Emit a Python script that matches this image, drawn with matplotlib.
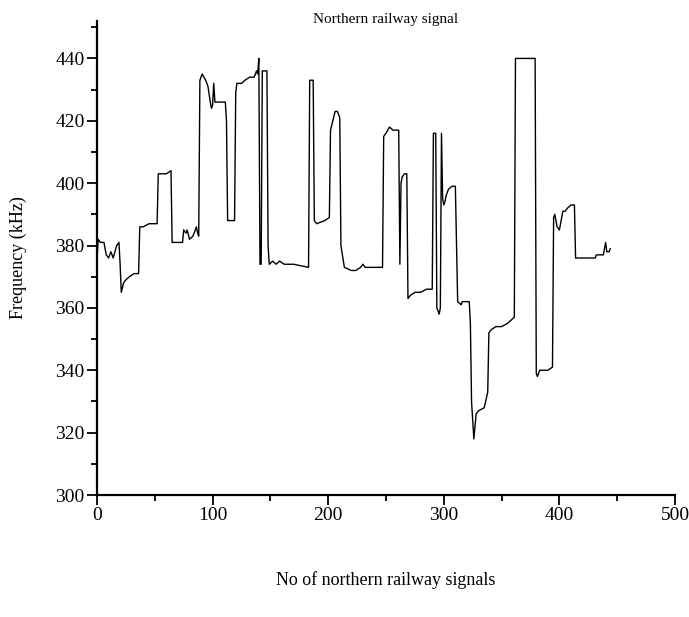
import matplotlib
matplotlib.use("Agg")
import matplotlib.pyplot as plt
from matplotlib.ticker import MultipleLocator

# signal index vs frequency (kHz)
signal_no = [0, 1, 3, 6, 8, 10, 12, 14, 17, 19, 20, 21, 23, 25, 28, 32, 36, 37, 40, 45, 52,
             53, 56, 60, 64, 65, 70, 74, 75, 77, 78, 80, 83, 86, 87, 88, 89, 91, 94, 96, 98,
             99, 100, 101, 102, 106, 111, 112, 113, 119, 120, 121, 125, 128, 132, 136, 138,
             139, 140, 141, 142, 143, 147, 148, 149, 152, 155, 158, 162, 170, 183,
             184, 187, 188, 190, 197, 201, 202, 204, 206, 208, 210, 211, 214, 220, 224, 228,
             230, 232, 247, 248, 250, 253, 256, 261, 262, 263, 264, 266, 268, 269,
             271, 275, 280, 285, 290, 291, 293, 294, 296, 297, 298, 299, 300, 301, 302,
             304, 307, 310, 311, 312, 315, 316, 318, 322, 323, 324, 326, 328, 330, 335, 338,
             339, 341, 345, 350, 355, 358, 361, 362, 379, 380, 381, 383, 390, 394, 395,
             396, 398, 400, 403, 405, 407, 410, 413, 414, 420, 431, 432, 438, 440, 441, 443, 444]
freq_khz = [375, 382, 381, 381, 377, 376, 378, 376, 380, 381, 374, 365, 368, 369, 370, 371, 371, 386, 386, 387, 387,
            403, 403, 403, 404, 381, 381, 381, 385, 384, 385, 382, 383, 386, 384, 383, 433, 435, 433, 431, 426,
            424, 425, 432, 426, 426, 426, 420, 388, 388, 429, 432, 432, 433, 434, 434, 436,
            435, 440, 374, 374, 436, 436, 380, 374, 375, 374, 375, 374, 374, 373,
            433, 433, 388, 387, 388, 389, 417, 420, 423, 423, 421, 380, 373, 372, 372, 373,
            374, 373, 373, 415, 416, 418, 417, 417, 374, 400, 402, 403, 403, 363,
            364, 365, 365, 366, 366, 416, 416, 360, 358, 360, 416, 395, 393, 394, 396,
            398, 399, 399, 380, 362, 361, 362, 362, 362, 355, 330, 318, 326, 327, 328, 333,
            352, 353, 354, 354, 355, 356, 357, 440, 440, 339, 338, 340, 340, 341, 389,
            390, 386, 385, 391, 391, 392, 393, 393, 376, 376, 376, 377, 377, 381, 378, 378, 379]

x_major = [0, 100, 200, 300, 400, 500]
y_major = [300, 320, 340, 360, 380, 400, 420, 440]

plt.rcParams['font.family'] = ['Liberation Serif', 'DejaVu Serif']

fig = plt.figure(figsize=(6.89, 6.17), dpi=100)
ax = fig.add_axes([97 / 689, 1 - 495 / 617, 578 / 689, 474 / 617])

ax.plot(signal_no, freq_khz, color="black", linewidth=1.0)

ax.set_xlim(0, 500)
ax.set_ylim(300, 452)
ax.set_xticks(x_major)
ax.set_yticks(y_major)
ax.xaxis.set_minor_locator(MultipleLocator(50))
ax.yaxis.set_minor_locator(MultipleLocator(10))
ax.tick_params(which="major", direction="out", length=7, width=1.3, labelsize=14, pad=2)
ax.tick_params(which="minor", direction="out", length=4, width=1.3)

for side in ["top", "right"]:
    ax.spines[side].set_visible(False)
for side in ["left", "bottom"]:
    ax.spines[side].set_linewidth(1.6)

fig.text(386 / 689, 1 - 20 / 617, "Northern railway signal", ha="center", va="center", fontsize=11)
fig.text(386 / 689, 1 - 580 / 617, "No of northern railway signals", ha="center", va="center", fontsize=13)
fig.text(18 / 689, 1 - 258 / 617, "Frequency (kHz)", ha="center", va="center", rotation=90, fontsize=13)

fig.savefig("out.png", dpi=100)
